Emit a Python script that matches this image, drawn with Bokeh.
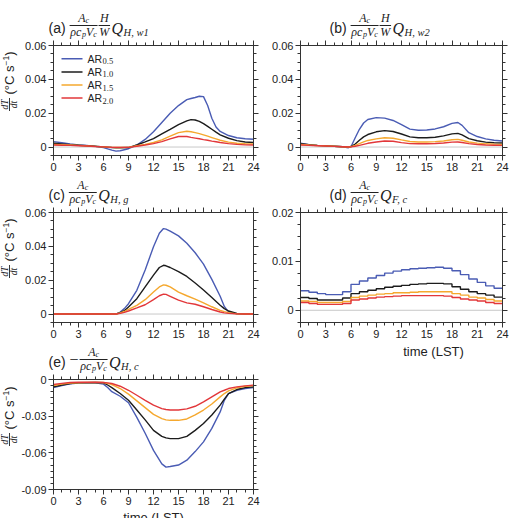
import math
from bokeh.plotting import figure
from bokeh.layouts import row, column
from bokeh.models import (Range1d, FixedTicker, NumeralTickFormatter, LinearAxis,
                          Span, Label, BoxAnnotation)
from bokeh.embed import file_html
from bokeh.resources import INLINE

# ---------------------------------------------------------------- data
hours = list(range(0, 25))
x_major = [0, 3, 6, 9, 12, 15, 18, 21, 24]
x_labels = ["0", "3", "6", "9", "12", "15", "18", "21", "24"]

ar_subs = ["0.5", "1.0", "1.5", "2.0"]
ar_colors = ["#4a5cb4", "#1c1c1c", "#f5a82e", "#e2373a"]

# (a) wall 1 sensible heat term
t_a = [0, 1, 2, 3, 4, 5, 6, 7, 7.5, 8, 9, 10, 11, 12, 13, 14, 15, 16, 16.5, 17, 17.5,
       18, 18.5, 19, 19.5, 20, 21, 22, 23, 24]
a_05 = [0.0032, 0.0025, 0.0018, 0.0013, 0.0009, 0.0004, -0.0003, -0.0018, -0.0024, -0.0022,
        -0.0010, 0.0012, 0.0045, 0.0090, 0.0145, 0.0200, 0.0245, 0.0280, 0.0287, 0.0293,
        0.0300, 0.0298, 0.0245, 0.0170, 0.0118, 0.0092, 0.0068, 0.0055, 0.0049, 0.0046]
a_10 = [0.0022, 0.0018, 0.0014, 0.0011, 0.0008, 0.0005, 0.0001, -0.0003, -0.0004, -0.0004,
        -0.0003, 0.0012, 0.0030, 0.0050, 0.0078, 0.0105, 0.0133, 0.0155, 0.0162, 0.0160,
        0.0152, 0.0138, 0.0122, 0.0105, 0.0088, 0.0072, 0.0052, 0.0038, 0.0030, 0.0027]
a_15 = [0.0016, 0.0014, 0.0012, 0.0010, 0.0007, 0.0004, 0.0001, -0.0002, -0.0003, -0.0003,
        -0.0002, 0.0008, 0.0016, 0.0027, 0.0042, 0.0064, 0.0085, 0.0093, 0.0090, 0.0085,
        0.0079, 0.0072, 0.0064, 0.0056, 0.0048, 0.0040, 0.0029, 0.0022, 0.0019, 0.0018]
a_20 = [0.0012, 0.0011, 0.0010, 0.0008, 0.0006, 0.0003, 0.0001, -0.0002, -0.0002, -0.0002,
        -0.0002, 0.0005, 0.0012, 0.0020, 0.0032, 0.0048, 0.0062, 0.0062, 0.0057, 0.0053,
        0.0049, 0.0044, 0.0040, 0.0035, 0.0031, 0.0027, 0.0020, 0.0016, 0.0013, 0.0012]

# (b) wall 2 sensible heat term
t_b = [0, 1, 2, 3, 4, 5, 5.7, 6, 6.5, 7, 7.5, 8, 9, 10, 11, 12, 13, 14, 15, 16, 17, 18,
       18.7, 19.2, 20, 21, 22, 23, 24]
b_05 = [0.0022, 0.0014, 0.0010, 0.0007, 0.0005, 0.0002, -0.0004, 0.0002, 0.0055, 0.0105,
        0.0142, 0.0163, 0.0174, 0.0171, 0.0157, 0.0132, 0.0106, 0.0099, 0.0101, 0.0107,
        0.0120, 0.0140, 0.0145, 0.0128, 0.0085, 0.0062, 0.0048, 0.0040, 0.0036]
b_10 = [0.0020, 0.0014, 0.0010, 0.0008, 0.0005, 0.0002, 0.0000, 0.0003, 0.0018, 0.0040,
        0.0060, 0.0074, 0.0090, 0.0097, 0.0092, 0.0077, 0.0060, 0.0055, 0.0055, 0.0058,
        0.0066, 0.0078, 0.0081, 0.0072, 0.0050, 0.0037, 0.0029, 0.0025, 0.0024]
b_15 = [0.0016, 0.0012, 0.0009, 0.0007, 0.0005, 0.0002, 0.0000, 0.0002, 0.0010, 0.0020,
        0.0030, 0.0039, 0.0048, 0.0055, 0.0052, 0.0042, 0.0033, 0.0030, 0.0030, 0.0032,
        0.0036, 0.0043, 0.0045, 0.0040, 0.0030, 0.0023, 0.0019, 0.0017, 0.0016]
b_20 = [0.0012, 0.0010, 0.0008, 0.0006, 0.0004, 0.0002, 0.0000, 0.0001, 0.0005, 0.0010,
        0.0016, 0.0022, 0.0030, 0.0036, 0.0034, 0.0026, 0.0020, 0.0019, 0.0019, 0.0021,
        0.0024, 0.0029, 0.0030, 0.0027, 0.0020, 0.0015, 0.0012, 0.0011, 0.0010]

# (c) ground sensible heat term
t_c = [0, 2, 4, 6, 7, 7.5, 8, 8.5, 9, 10, 11, 12, 12.7, 13.2, 13.5, 14, 15, 16, 17, 18, 19,
       20, 20.5, 21, 22, 23, 24]
c_05 = [0, 0, 0, 0, 0, 0, 0.0012, 0.0032, 0.0061, 0.0140, 0.0260, 0.0398, 0.0477, 0.0505,
        0.0502, 0.0490, 0.0462, 0.0418, 0.0362, 0.0295, 0.0205, 0.0105, 0.0045, 0.0013,
        0.0001, 0, 0]
c_10 = [0, 0, 0, 0, 0, 0, 0.0008, 0.0020, 0.0042, 0.0091, 0.0160, 0.0230, 0.0275, 0.0288,
        0.0285, 0.0275, 0.0250, 0.0222, 0.0183, 0.0142, 0.0098, 0.0052, 0.0032, 0.0018,
        0.0003, 0, 0]
c_15 = [0, 0, 0, 0, 0, 0, 0.0006, 0.0015, 0.0028, 0.0051, 0.0085, 0.0130, 0.0160, 0.0172,
        0.0170, 0.0160, 0.0130, 0.0108, 0.0088, 0.0066, 0.0043, 0.0022, 0.0014, 0.0008,
        0.0001, 0, 0]
c_20 = [0, 0, 0, 0, 0, 0, 0.0004, 0.0010, 0.0018, 0.0036, 0.0055, 0.0085, 0.0108, 0.0118,
        0.0116, 0.0105, 0.0082, 0.0066, 0.0058, 0.0043, 0.0027, 0.0012, 0.0007, 0.0004,
        0.0001, 0, 0]

# (d) anthropogenic heat term, hourly values
d_05 = [0.0040, 0.0037, 0.0034, 0.0032, 0.0032, 0.0038, 0.0053, 0.0060, 0.0066, 0.0071,
        0.0076, 0.0080, 0.0083, 0.0085, 0.0086, 0.0087, 0.0088, 0.0086, 0.0081, 0.0073,
        0.0064, 0.0057, 0.0050, 0.0045]
d_10 = [0.0026, 0.0024, 0.0021, 0.0021, 0.0021, 0.0025, 0.0034, 0.0038, 0.0041, 0.0044,
        0.0047, 0.0049, 0.0051, 0.0053, 0.0054, 0.0055, 0.0055, 0.0054, 0.0048, 0.0043,
        0.0038, 0.0034, 0.0031, 0.0027]
d_15 = [0.0019, 0.0018, 0.0016, 0.0016, 0.0016, 0.0018, 0.0026, 0.0029, 0.0031, 0.0033,
        0.0034, 0.0036, 0.0036, 0.0037, 0.0038, 0.0038, 0.0038, 0.0038, 0.0034, 0.0031,
        0.0027, 0.0025, 0.0022, 0.0019]
d_20 = [0.0016, 0.0014, 0.0012, 0.0012, 0.0012, 0.0014, 0.0021, 0.0023, 0.0025, 0.0027,
        0.0028, 0.0029, 0.0030, 0.0030, 0.0030, 0.0030, 0.0030, 0.0029, 0.0026, 0.0023,
        0.0021, 0.0019, 0.0016, 0.0014]

# (e) canyon-top sensible heat exchange term
t_e = [0, 1, 2, 3, 4, 5, 6, 6.5, 7, 8, 9, 10, 11, 12, 13, 13.5, 14, 15, 16, 17, 18, 19, 20,
       20.5, 21, 22, 23, 24]
e_05 = [-0.0066, -0.0049, -0.0036, -0.0030, -0.0028, -0.0027, -0.0038, -0.0066, -0.0100,
        -0.0137, -0.0190, -0.0310, -0.0440, -0.0580, -0.0690, -0.0717, -0.0712, -0.0700,
        -0.0660, -0.0590, -0.0510, -0.0400, -0.0265, -0.0170, -0.0115, -0.0088, -0.0074,
        -0.0066]
e_10 = [-0.0060, -0.0045, -0.0033, -0.0028, -0.0026, -0.0025, -0.0027, -0.0045, -0.0066,
        -0.0115, -0.0170, -0.0250, -0.0330, -0.0416, -0.0465, -0.0478, -0.0484, -0.0484,
        -0.0465, -0.0416, -0.0360, -0.0290, -0.0210, -0.0160, -0.0115, -0.0082, -0.0066,
        -0.0060]
e_15 = [-0.0049, -0.0038, -0.0030, -0.0027, -0.0025, -0.0025, -0.0025, -0.0032, -0.0041,
        -0.0074, -0.0120, -0.0175, -0.0230, -0.0285, -0.0320, -0.0330, -0.0334, -0.0334,
        -0.0323, -0.0290, -0.0250, -0.0200, -0.0142, -0.0115, -0.0093, -0.0068, -0.0055,
        -0.0049]
e_20 = [-0.0041, -0.0032, -0.0025, -0.0023, -0.0022, -0.0022, -0.0025, -0.0028, -0.0033,
        -0.0055, -0.0088, -0.0129, -0.0170, -0.0210, -0.0238, -0.0245, -0.0250, -0.0250,
        -0.0240, -0.0219, -0.0183, -0.0142, -0.0101, -0.0088, -0.0074, -0.0060, -0.0052,
        -0.0046]

# ---------------------------------------------------------------- styling helpers
INK = "#222222"
AXIS = "#333333"
SERIF = "Liberation Serif"
SANS = "Liberation Sans"

ADV_SERIF_I = {"A": 0.611, "c": 0.444, "ρ": 0.52, "p": 0.5, "V": 0.611, "H": 0.722,
               "W": 0.833, "Q": 0.722, "F": 0.611, "g": 0.5, "w": 0.667, "1": 0.5,
               "2": 0.5, ",": 0.25, " ": 0.25, ".": 0.25, "0": 0.5, "5": 0.5}
ADV_SANS = {"(": 0.333, ")": 0.333, "°": 0.4, "C": 0.722, " ": 0.278, "s": 0.5,
            "−": 0.584, "1": 0.556, "a": 0.556, "b": 0.556, "c": 0.5, "d": 0.556,
            "e": 0.556, "A": 0.667, "R": 0.722}

FRAC_SIZE, FRAC_SUB = 12, 8
Q_SIZE, Q_SUB = 16, 10.5


def tw(s, size, table=ADV_SERIF_I):
    return sum(table.get(ch, 0.5) for ch in s) * size


class Pen:
    """Places text and rules on a figure, given page pixel positions."""

    def __init__(self, p, frame_left, frame_bottom):
        self.p, self.fl, self.fb = p, frame_left, frame_bottom

    def text(self, s, X, Y, size, font=SERIF, style="italic", angle=0.0, align="left",
             color=INK):
        self.p.add_layout(Label(
            x=X - self.fl, y=self.fb - Y, x_units="screen", y_units="screen", text=s,
            text_font=font, text_font_size=f"{size}px", text_font_style=style,
            text_color=color, text_baseline="middle", text_align=align, angle=angle))

    def rule(self, X0, X1, Y0, Y1, color=INK):
        self.p.add_layout(BoxAnnotation(
            left=X0 - self.fl, right=X1 - self.fl, bottom=self.fb - Y1, top=self.fb - Y0,
            left_units="screen", right_units="screen", top_units="screen",
            bottom_units="screen", fill_color=color, fill_alpha=1.0, line_color=None))


def frac(pen, x, yc, num, den):
    wn = sum(tw(s, sz) for s, sz, _ in num)
    wd = sum(tw(s, sz) for s, sz, _ in den)
    w = max(wn, wd) + 1.5
    xn = x + (w - wn) / 2
    for s, sz, dy in num:
        pen.text(s, xn, yc - 7.5 + dy, sz)
        xn += tw(s, sz)
    xd = x + (w - wd) / 2
    for s, sz, dy in den:
        pen.text(s, xd, yc + 6.5 + dy, sz)
        xd += tw(s, sz)
    pen.rule(x, x + w, yc - 0.45, yc + 0.45)
    return x + w


def panel_title(pen, X, yc, tag, q_sub, minus=False, hw=False):
    pen.text(tag, X, yc + 2, 14, SANS, "normal")
    x = X + tw(tag, 14, ADV_SANS) + 4
    if minus:
        pen.text("−", x, yc, 16, SERIF, "normal")
        x += 10
    x = frac(pen, x, yc, [("A", FRAC_SIZE, 0), ("c", FRAC_SUB, 2.5)],
             [("ρc", FRAC_SIZE, 0), ("p", FRAC_SUB, 2.5), ("V", FRAC_SIZE, 0),
              ("c", FRAC_SUB, 2.5)])
    if hw:
        x = frac(pen, x + 1, yc, [("H", FRAC_SIZE, 0)], [("W", FRAC_SIZE, 0)])
    pen.text("Q", x + 1.5, yc + 3, Q_SIZE)
    pen.text(q_sub, x + 1.5 + tw("Q", Q_SIZE) + 0.5, yc + 7, Q_SUB)


def y_label(pen, X, yc):
    ang = math.pi / 2
    y = yc + 15
    pen.text("(°C s", X, y, 13, SANS, "normal", angle=ang)
    y -= tw("(°C s", 13, ADV_SANS)
    pen.text("−1", X - 3.5, y, 8.5, SANS, "normal", angle=ang)
    y -= tw("−1", 8.5, ADV_SANS)
    pen.text(")", X, y, 13, SANS, "normal", angle=ang)
    fc = yc + 25
    pen.text("dT", X - 4.5, fc, 9.5, SERIF, "italic", angle=ang, align="center")
    pen.text("dt", X + 4.5, fc, 9.5, SERIF, "italic", angle=ang, align="center")
    pen.rule(X - 0.45, X + 0.45, fc - 6.5, fc + 6.5)


def strip(width, height):
    """Blank full-bleed canvas used for titles and axis captions."""
    s = figure(width=width, height=height, x_range=Range1d(0, 1), y_range=Range1d(0, 1),
               x_axis_type=None, y_axis_type=None, min_border=0, output_backend="svg",
               toolbar_location=None, tools="")
    s.grid.visible = False
    s.outline_line_color = None
    s.background_fill_color = "white"
    s.border_fill_color = "white"
    return s


def make_fig(width, height, bl, br, bt, bb, ylo, yhi, yticks, yminor):
    p = figure(width=width, height=height, x_range=Range1d(0, 24),
               y_range=Range1d(ylo, yhi), min_border_left=bl, min_border_right=br,
               min_border_top=bt, min_border_bottom=bb, output_backend="svg",
               toolbar_location=None, tools="")
    p.xgrid.visible = False
    p.ygrid.visible = False
    p.outline_line_color = AXIS
    p.background_fill_color = "white"
    p.border_fill_color = "white"
    top = LinearAxis()
    right = LinearAxis()
    p.add_layout(top, "above")
    p.add_layout(right, "right")
    for ax in (p.below[0], top):
        ax.ticker = FixedTicker(ticks=x_major, minor_ticks=hours)
        ax.major_label_overrides = {v: s for v, s in zip(x_major, x_labels)}
    for ax in (p.left[0], right):
        ax.ticker = FixedTicker(ticks=yticks, minor_ticks=yminor)
        ax.formatter = NumeralTickFormatter(format="0.[00]")
    for ax in (p.below[0], p.left[0], top, right):
        ax.axis_line_color = AXIS
        ax.major_tick_line_color = AXIS
        ax.minor_tick_line_color = AXIS
        ax.major_tick_in = 0
        ax.major_tick_out = 5
        ax.minor_tick_in = 0
        ax.minor_tick_out = 3
        ax.major_label_standoff = 2
        ax.major_label_text_font = SANS
        ax.major_label_text_font_size = "11px"
        ax.major_label_text_color = INK
    # mirrored tick axes on the top and right carry no numbers
    for ax in (top, right):
        ax.major_label_standoff = 0
        ax.major_label_text_font_size = "0px"
        ax.major_label_text_color = None
    return p


def zero_line(p):
    p.add_layout(Span(location=0, dimension="width", line_color="#c8c8c8",
                      line_width=1, level="underlay"))


def draw_series(p, t, series):
    for vals, col in zip(series, ar_colors):
        p.line(t, vals, line_color=col, line_width=1.4)


def minor(lo, hi, step):
    n = int(round((hi - lo) / step))
    return [round(lo + i * step, 5) for i in range(n + 1)]


# ---------------------------------------------------------------- left column: (a) (c) (e)
ta = strip(268, 39)
panel_title(Pen(ta, 0, 39), 48, 25, "(a)", "H, w1", hw=True)
ya = strip(18, 137)
y_label(Pen(ya, 0, 176), 9, 100)
pa = make_fig(250, 137, 35, 15, 6, 21, -0.005, 0.06, [0, 0.02, 0.04, 0.06],
              minor(-0.005, 0.06, 0.005))
zero_line(pa)
draw_series(pa, t_a, [a_05, a_10, a_15, a_20])
pen = Pen(pa, 53, 155)
for i, (sub, col) in enumerate(zip(ar_subs, ar_colors)):
    y = 58.3 + 13.1 * i
    pen.rule(61, 82, y - 0.75, y + 0.75, color=col)
    pen.text("AR", 87, y, 10.5, SANS, "normal")
    pen.text(sub, 87 + tw("AR", 10.5, ADV_SANS) + 0.5, y + 2.5, 8.5, SERIF, "normal")

tc = strip(268, 30)
panel_title(Pen(tc, 0, 206), 48, 192, "(c)", "H, g")
yc_ = strip(18, 137)
y_label(Pen(yc_, 0, 343), 9, 267)
pc = make_fig(250, 137, 35, 15, 6, 21, -0.005, 0.06, [0, 0.02, 0.04, 0.06],
              minor(-0.005, 0.06, 0.005))
zero_line(pc)
draw_series(pc, t_c, [c_05, c_10, c_15, c_20])

te = strip(268, 30)
panel_title(Pen(te, 0, 373), 48, 359, "(e)", "H, c", minus=True)
ye = strip(18, 136)
y_label(Pen(ye, 0, 509), 9, 434)
pe = make_fig(250, 136, 35, 15, 6, 20, -0.09, 0.0, [-0.09, -0.06, -0.03, 0],
              minor(-0.09, 0.0, 0.005))
draw_series(pe, t_e, [e_05, e_10, e_15, e_20])
xe = strip(268, 9)
Pen(xe, 0, 518).text("time (LST)", 153, 514, 13, SANS, "normal", align="center")

# ---------------------------------------------------------------- right column: (b) (d)
tb = strip(245, 39)
panel_title(Pen(tb, 268, 39), 297, 25, "(b)", "H, w2", hw=True)
pb = make_fig(245, 137, 32, 11, 6, 21, -0.005, 0.06, [0, 0.02, 0.04, 0.06],
              minor(-0.005, 0.06, 0.005))
zero_line(pb)
draw_series(pb, t_b, [b_05, b_10, b_15, b_20])

td = strip(245, 30)
panel_title(Pen(td, 268, 206), 297, 192, "(d)", "F, c")
pd_ = make_fig(245, 137, 32, 11, 6, 21, -0.0025, 0.02, [0, 0.01, 0.02],
               minor(-0.0025, 0.02, 0.0025))
zero_line(pd_)
for vals, col in zip([d_05, d_10, d_15, d_20], ar_colors):
    pd_.step(hours, vals + [vals[-1]], mode="after", line_color=col, line_width=1.4)
xd = strip(245, 175)
Pen(xd, 268, 518).text("time (LST)", 401, 351, 13, SANS, "normal", align="center")

left_col = column(ta, row(ya, pa), tc, row(yc_, pc), te, row(ye, pe), xe)
right_col = column(tb, pb, td, pd_, xd)
layout = row(left_col, right_col)

open("out.html", "w").write(file_html(layout, INLINE))
